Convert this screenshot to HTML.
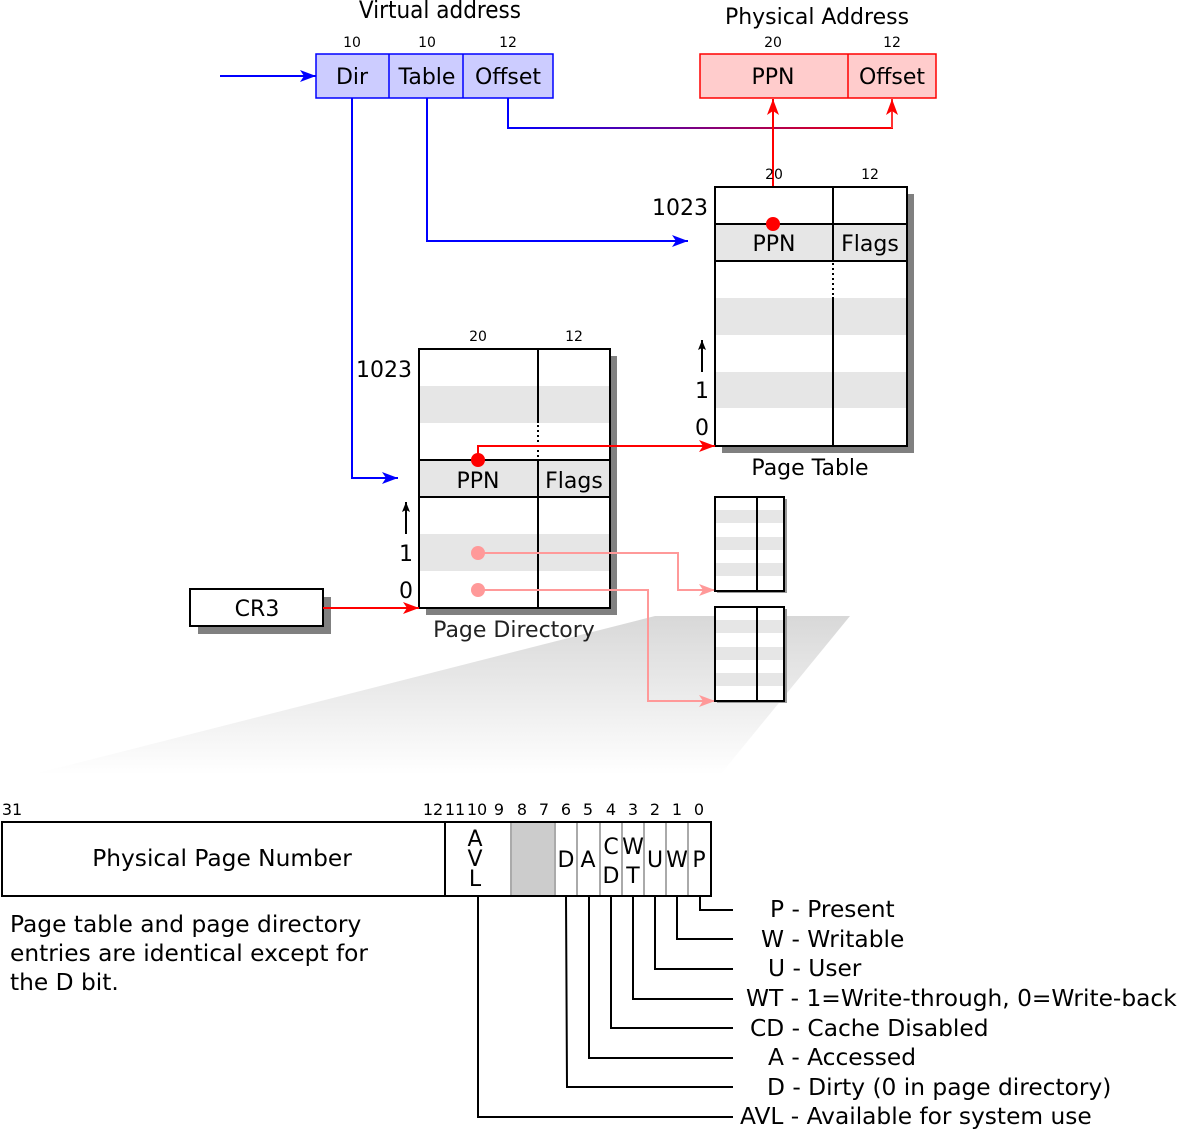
<!DOCTYPE html>
<html><head><meta charset="utf-8"><style>
html,body{margin:0;padding:0;background:#fff;}
svg{display:block;font-family:"DejaVu Sans","Liberation Sans",sans-serif;}
</style></head><body>
<svg width="1179" height="1130" viewBox="0 0 1179 1130" xmlns="http://www.w3.org/2000/svg">
<defs>
<linearGradient id="gl" x1="0" y1="0" x2="1" y2="0"><stop offset="0" stop-color="#0000ff"/><stop offset="1" stop-color="#ff0000"/></linearGradient>
<linearGradient id="gt" x1="0" y1="0" x2="0" y2="1"><stop offset="0" stop-color="#d8d8d8"/><stop offset="1" stop-color="#ffffff"/></linearGradient>
<marker id="ab" markerWidth="16" markerHeight="12" refX="16" refY="6" orient="auto" markerUnits="userSpaceOnUse"><path d="M0,0L16,6L0,12L4,6z" fill="#0000ff"/></marker>
<marker id="ar" markerWidth="16" markerHeight="12" refX="16" refY="6" orient="auto" markerUnits="userSpaceOnUse"><path d="M0,0L16,6L0,12L4,6z" fill="#ff0000"/></marker>
<marker id="ap" markerWidth="16" markerHeight="12" refX="16" refY="6" orient="auto" markerUnits="userSpaceOnUse"><path d="M0,0L16,6L0,12L4,6z" fill="#ff9999"/></marker>
<marker id="ak" markerWidth="10" markerHeight="8" refX="10" refY="4" orient="auto" markerUnits="userSpaceOnUse"><path d="M0,0L10,4L0,8L2,4z" fill="#000"/></marker>
</defs>

<polygon points="655,616 850,616 720,775 30,775" fill="url(#gt)"/>

<text x="440" y="18" font-size="24" text-anchor="middle" font-family="DejaVu Sans Condensed, Liberation Sans Narrow, sans-serif">Virtual address</text>
<g font-size="14" text-anchor="middle"><text x="352" y="47">10</text><text x="427" y="47">10</text><text x="508" y="47">12</text>
<text x="773" y="47">20</text><text x="892" y="47">12</text></g>
<rect x="316" y="54" width="237" height="44" fill="#ccccff" stroke="#0000ff" stroke-width="1.5"/>
<line x1="389" y1="54" x2="389" y2="98" stroke="#0000ff" stroke-width="1.5"/>
<line x1="463" y1="54" x2="463" y2="98" stroke="#0000ff" stroke-width="1.5"/>
<g font-size="22" text-anchor="middle"><text x="352" y="84">Dir</text><text x="427" y="84">Table</text><text x="508" y="84">Offset</text></g>
<line x1="220" y1="76" x2="316" y2="76" stroke="#0000ff" stroke-width="2" marker-end="url(#ab)"/>

<text x="817" y="24" font-size="22" text-anchor="middle">Physical Address</text>
<rect x="700" y="54" width="236" height="44" fill="#ffcccc" stroke="#ff0000" stroke-width="1.5"/>
<line x1="848" y1="54" x2="848" y2="98" stroke="#ff0000" stroke-width="1.5"/>
<g font-size="22" text-anchor="middle"><text x="773" y="84">PPN</text><text x="892" y="84">Offset</text></g>

<path d="M508,98V128H892V100" fill="none" stroke="url(#gl)" stroke-width="2"/>
<path d="M892,128V99" fill="none" stroke="#ff3333" stroke-width="2" marker-end="url(#ar)"/>
<path d="M773,224V99" fill="none" stroke="#ff0000" stroke-width="2" marker-end="url(#ar)"/>
<path d="M352,98V478H398" fill="none" stroke="#0000ff" stroke-width="2" marker-end="url(#ab)"/>
<path d="M427,98V241H688" fill="none" stroke="#0000ff" stroke-width="2" marker-end="url(#ab)"/>

<rect x="722" y="194" width="192" height="259" fill="#808080"/>
<rect x="715" y="187" width="192" height="259" fill="#fff"/>
<rect x="715" y="224" width="192" height="37" fill="#e6e6e6"/>
<rect x="715" y="298" width="192" height="37" fill="#e6e6e6"/>
<rect x="715" y="372" width="192" height="36" fill="#e6e6e6"/>
<line x1="833" y1="187" x2="833" y2="261" stroke="#000" stroke-width="2"/>
<line x1="833" y1="263" x2="833" y2="297" stroke="#000" stroke-width="2" stroke-dasharray="2,3"/>
<line x1="833" y1="297" x2="833" y2="446" stroke="#000" stroke-width="2"/>
<line x1="715" y1="224" x2="907" y2="224" stroke="#000" stroke-width="2"/>
<line x1="715" y1="261" x2="907" y2="261" stroke="#000" stroke-width="2"/>
<rect x="715" y="187" width="192" height="259" fill="none" stroke="#000" stroke-width="2"/>
<g font-size="22" text-anchor="middle"><text x="774" y="251">PPN</text><text x="870" y="251">Flags</text>
<text x="680" y="215">1023</text><text x="702" y="398">1</text><text x="702" y="435">0</text>
<text x="810" y="475">Page Table</text></g>
<g font-size="14" text-anchor="middle"><text x="774" y="179">20</text><text x="870" y="179">12</text></g>
<line x1="702" y1="372" x2="702" y2="340" stroke="#000" stroke-width="2" marker-end="url(#ak)"/>
<circle cx="773" cy="224" r="7" fill="#ff0000"/>

<rect x="426" y="356" width="191" height="259" fill="#808080"/>
<rect x="419" y="349" width="191" height="259" fill="#fff"/>
<rect x="419" y="386" width="191" height="37" fill="#e6e6e6"/>
<rect x="419" y="460" width="191" height="37" fill="#e6e6e6"/>
<rect x="419" y="534" width="191" height="37" fill="#e6e6e6"/>
<line x1="538" y1="349" x2="538" y2="423" stroke="#000" stroke-width="2"/>
<line x1="538" y1="425" x2="538" y2="459" stroke="#000" stroke-width="2" stroke-dasharray="2,3"/>
<line x1="538" y1="460" x2="538" y2="608" stroke="#000" stroke-width="2"/>
<line x1="419" y1="460" x2="610" y2="460" stroke="#000" stroke-width="2"/>
<line x1="419" y1="497" x2="610" y2="497" stroke="#000" stroke-width="2"/>
<rect x="419" y="349" width="191" height="259" fill="none" stroke="#000" stroke-width="2"/>
<g font-size="22" text-anchor="middle"><text x="478" y="488">PPN</text><text x="574" y="488">Flags</text>
<text x="384" y="377">1023</text><text x="406" y="561">1</text><text x="406" y="598">0</text>
<text x="514" y="637" fill="#222">Page Directory</text></g>
<g font-size="14" text-anchor="middle"><text x="478" y="341">20</text><text x="574" y="341">12</text></g>
<line x1="406" y1="534" x2="406" y2="502" stroke="#000" stroke-width="2" marker-end="url(#ak)"/>
<path d="M478,460V446H715" fill="none" stroke="#ff0000" stroke-width="2" marker-end="url(#ar)"/>
<circle cx="478" cy="460" r="7" fill="#ff0000"/>
<path d="M478,553H678V590H715" fill="none" stroke="#ff9999" stroke-width="2" marker-end="url(#ap)"/>
<path d="M478,590H648V701H715" fill="none" stroke="#ff9999" stroke-width="2" marker-end="url(#ap)"/>
<circle cx="478" cy="553" r="7" fill="#ff9999"/>
<circle cx="478" cy="590" r="7" fill="#ff9999"/>

<rect x="198" y="597" width="133" height="37" fill="#808080"/>
<rect x="190" y="589" width="133" height="37" fill="#fff" stroke="#000" stroke-width="2"/>
<text x="257" y="616" font-size="22" text-anchor="middle">CR3</text>
<line x1="323" y1="608" x2="419" y2="608" stroke="#ff0000" stroke-width="2" marker-end="url(#ar)"/>

<g>
<rect x="717" y="499" width="70" height="94" fill="#999"/>
<rect x="715" y="497" width="69" height="94" fill="#fff"/>
<rect x="715" y="510" width="69" height="13" fill="#e6e6e6"/>
<rect x="715" y="537" width="69" height="13" fill="#e6e6e6"/>
<rect x="715" y="563" width="69" height="13" fill="#e6e6e6"/>
<line x1="757" y1="497" x2="757" y2="591" stroke="#000" stroke-width="2"/>
<rect x="715" y="497" width="69" height="94" fill="none" stroke="#000" stroke-width="2"/>
</g>
<g>
<rect x="717" y="609" width="70" height="94" fill="#999"/>
<rect x="715" y="607" width="69" height="94" fill="#fff"/>
<rect x="715" y="620" width="69" height="13" fill="#e6e6e6"/>
<rect x="715" y="647" width="69" height="13" fill="#e6e6e6"/>
<rect x="715" y="673" width="69" height="13" fill="#e6e6e6"/>
<line x1="757" y1="607" x2="757" y2="701" stroke="#000" stroke-width="2"/>
<rect x="715" y="607" width="69" height="94" fill="none" stroke="#000" stroke-width="2"/>
</g>

<rect x="511" y="822" width="44" height="74" fill="#cccccc"/>
<g stroke="#aaa" stroke-width="2">
<line x1="511" y1="822" x2="511" y2="896"/><line x1="555" y1="822" x2="555" y2="896"/>
<line x1="577" y1="822" x2="577" y2="896"/><line x1="600" y1="822" x2="600" y2="896"/>
<line x1="622" y1="822" x2="622" y2="896"/><line x1="644" y1="822" x2="644" y2="896"/>
<line x1="666" y1="822" x2="666" y2="896"/><line x1="688" y1="822" x2="688" y2="896"/>
</g>
<line x1="445" y1="822" x2="445" y2="896" stroke="#000" stroke-width="2"/>
<rect x="2" y="822" width="709" height="74" fill="none" stroke="#000" stroke-width="2"/>
<g font-size="16" text-anchor="middle">
<text x="12" y="815">31</text><text x="433" y="815">12</text><text x="455" y="815">11</text><text x="477" y="815">10</text><text x="499" y="815">9</text>
<text x="522" y="815">8</text><text x="544" y="815">7</text><text x="566" y="815">6</text><text x="588" y="815">5</text><text x="611" y="815">4</text>
<text x="633" y="815">3</text><text x="655" y="815">2</text><text x="677" y="815">1</text><text x="699" y="815">0</text>
</g>
<g font-size="22" text-anchor="middle">
<text x="222" y="866" font-size="23.3">Physical Page Number</text>
<text x="475" y="846">A</text><text x="475" y="866">V</text><text x="475" y="886">L</text>
<text x="566" y="867">D</text><text x="588" y="867">A</text>
<text x="611" y="854">C</text><text x="611" y="883">D</text>
<text x="633" y="854">W</text><text x="633" y="883">T</text>
<text x="655" y="867">U</text><text x="677" y="867">W</text><text x="699" y="867">P</text>
</g>
<g fill="none" stroke="#000" stroke-width="2">
<path d="M700,896V910H733"/><path d="M677,896V939H733"/><path d="M655,896V969H733"/>
<path d="M633,896V999H733"/><path d="M611,896V1028H733"/><path d="M589,896V1058H733"/>
<path d="M566,896L567,1087H733"/><path d="M478,896V1117H733"/>
</g>
<g font-size="23.3">
<text x="770" y="917">P - Present</text>
<text x="761" y="947">W - Writable</text>
<text x="768" y="976">U - User</text>
<text x="746" y="1006">WT - 1=Write-through, 0=Write-back</text>
<text x="750" y="1036">CD - Cache Disabled</text>
<text x="768" y="1065">A - Accessed</text>
<text x="767" y="1095">D - Dirty (0 in page directory)</text>
<text x="740" y="1124">AVL - Available for system use</text>
</g>
<g font-size="23.3">
<text x="10" y="932">Page table and page directory</text>
<text x="10" y="961">entries are identical except for</text>
<text x="10" y="990">the D bit.</text>
</g>
</svg>
</body></html>
